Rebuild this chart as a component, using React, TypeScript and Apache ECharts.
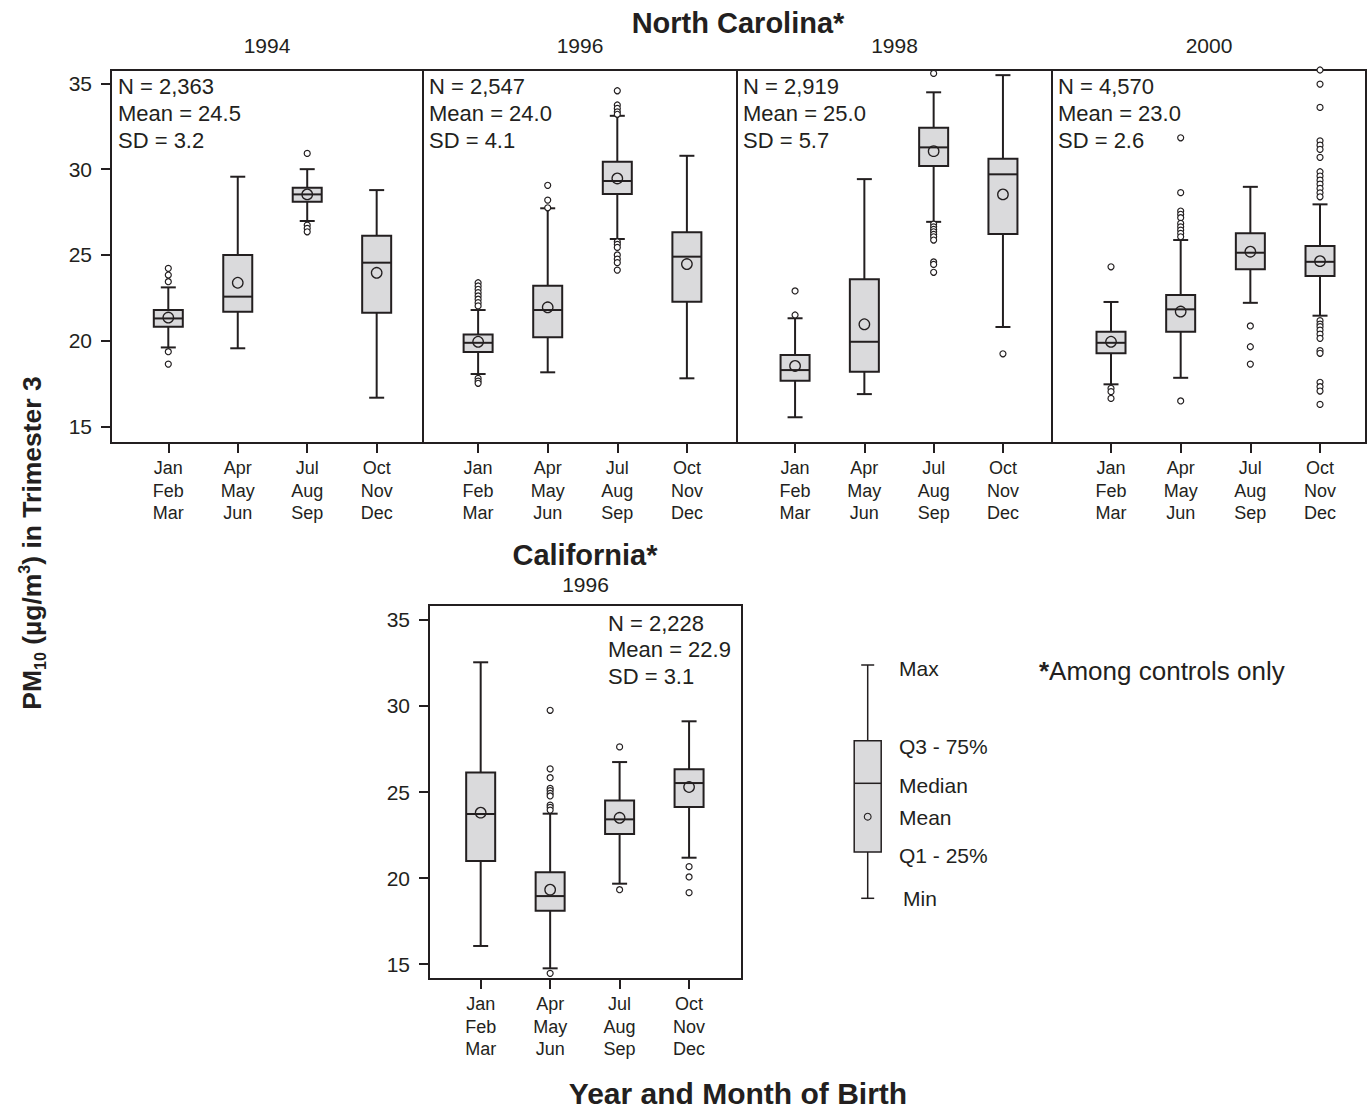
import React, { useEffect, useRef } from 'react';
import * as echarts from 'echarts';

// ---------- data ----------
const seasons = ['Jan\nFeb\nMar', 'Apr\nMay\nJun', 'Jul\nAug\nSep', 'Oct\nNov\nDec'];
const yTicks = [15, 20, 25, 30, 35];
const xTicks = [1, 2, 3, 4];

// box stats per season: [min, Q1, median, Q3, max]
const nc1994Box = [
  [19.61, 20.82, 21.3, 21.79, 23.11],
  [19.56, 21.69, 22.57, 25.0, 29.56],
  [26.98, 28.1, 28.53, 28.92, 30.0],
  [16.68, 21.63, 24.55, 26.12, 28.78],
];
const nc1994Mean = [21.35, 23.38, 28.53, 23.96];
const nc1994Outliers = [
  [24.22, 23.83, 23.44, 19.36, 18.64],
  [],
  [30.92, 26.74, 26.55, 26.35],
  [],
];
const nc1994Stats = ['N = 2,363', 'Mean = 24.5', 'SD = 3.2'];

const nc1996Box = [
  [18.06, 19.34, 19.88, 20.37, 21.79],
  [18.16, 20.2, 21.79, 23.21, 27.72],
  [25.93, 28.55, 29.31, 30.43, 33.11],
  [17.81, 22.27, 24.9, 26.32, 30.78],
];
const nc1996Mean = [19.94, 21.95, 29.46, 24.47];
const nc1996Outliers = [
  [23.38, 23.19, 23.0, 22.8, 22.61, 22.42, 22.22, 22.03, 17.81, 17.65, 17.52],
  [29.06, 28.2, 27.75],
  [34.57, 33.74, 33.54, 33.34, 33.2, 25.77, 25.62, 25.44, 25.0, 24.76, 24.55, 24.12],
  [],
];
const nc1996Stats = ['N = 2,547', 'Mean = 24.0', 'SD = 4.1'];

const nc1998Box = [
  [15.54, 17.67, 18.29, 19.17, 21.31],
  [16.89, 18.19, 19.94, 23.58, 29.42],
  [26.93, 30.18, 31.27, 32.41, 34.48],
  [20.8, 26.22, 29.7, 30.61, 35.48],
];
const nc1998Mean = [18.53, 20.96, 31.05, 28.53];
const nc1998Outliers = [
  [22.9, 21.5],
  [],
  [35.58, 26.8, 26.64, 26.49, 26.35, 26.2, 26.06, 25.87, 24.59, 24.45, 23.99],
  [19.24],
];
const nc1998Stats = ['N = 2,919', 'Mean = 25.0', 'SD = 5.7'];

const nc2000Box = [
  [17.46, 19.27, 19.88, 20.52, 22.26],
  [17.84, 20.52, 21.83, 22.66, 25.87],
  [22.21, 24.16, 25.13, 26.26, 28.97],
  [21.46, 23.77, 24.6, 25.52, 27.95],
];
const nc2000Mean = [19.94, 21.7, 25.19, 24.64];
const nc2000Outliers = [
  [24.31, 17.23, 17.03, 16.64],
  [31.83, 28.63, 27.56, 27.37, 27.17, 26.84, 26.64, 26.45, 26.26, 26.06, 16.49],
  [20.86, 19.65, 18.64],
  [35.78, 34.96, 33.6, 31.65, 31.4, 31.15, 30.69, 29.85, 29.6, 29.36, 29.13, 28.88, 28.62, 28.39,
    21.17, 20.97, 20.82, 20.62, 20.39, 20.14, 19.42, 19.27, 17.58, 17.32, 17.07, 16.29],
];
const nc2000Stats = ['N = 4,570', 'Mean = 23.0', 'SD = 2.6'];

const ca1996Box = [
  [16.05, 20.99, 23.72, 26.14, 32.54],
  [14.75, 18.1, 18.95, 20.33, 23.74],
  [19.67, 22.56, 23.41, 24.5, 26.74],
  [21.18, 24.13, 25.52, 26.32, 29.11],
];
const ca1996Mean = [23.8, 19.32, 23.5, 25.29];
const ca1996Outliers = [
  [],
  [29.75, 26.34, 25.83, 25.21, 25.08, 24.92, 24.77, 24.24, 24.11, 23.95, 14.46],
  [27.62, 19.32],
  [20.66, 20.06, 19.15],
];
const ca1996Stats = ['N = 2,228', 'Mean = 22.9', 'SD = 3.1'];

const legendLabels = ['Max', 'Q3 - 75%', 'Median', 'Mean', 'Q1 - 25%', 'Min'];

// ---------- layout / style ----------
const INK = '#231f20';
const BOX_FILL = '#dadadc';
const FONT = '"Liberation Sans", Arial, Helvetica, sans-serif';

const panels = [
  { box: nc1994Box, mean: nc1994Mean, out: nc1994Outliers, stats: nc1994Stats, year: '1994',
    grid: { left: 111, top: 70, width: 312, height: 373 }, xr: [0.175, 4.667], yr: [14.04, 35.78], showY: true,
    statsPos: [118, 72.5], statsLH: 27, yearY: 45 },
  { box: nc1996Box, mean: nc1996Mean, out: nc1996Outliers, stats: nc1996Stats, year: '1996',
    grid: { left: 423, top: 70, width: 314, height: 373 }, xr: [0.208, 4.72], yr: [14.04, 35.78], showY: false,
    statsPos: [429, 72.5], statsLH: 27, yearY: 45 },
  { box: nc1998Box, mean: nc1998Mean, out: nc1998Outliers, stats: nc1998Stats, year: '1998',
    grid: { left: 737, top: 70, width: 315, height: 373 }, xr: [0.162, 4.708], yr: [14.04, 35.78], showY: false,
    statsPos: [743, 72.5], statsLH: 27, yearY: 45 },
  { box: nc2000Box, mean: nc2000Mean, out: nc2000Outliers, stats: nc2000Stats, year: '2000',
    grid: { left: 1052, top: 70, width: 314, height: 373 }, xr: [0.153, 4.66], yr: [14.04, 35.78], showY: false,
    statsPos: [1058, 72.5], statsLH: 27, yearY: 45 },
  { box: ca1996Box, mean: ca1996Mean, out: ca1996Outliers, stats: ca1996Stats, year: '1996',
    grid: { left: 429, top: 605, width: 313, height: 374 }, xr: [0.256, 4.762], yr: [14.13, 35.87], showY: true,
    statsPos: [608, 610], statsLH: 26.5, yearY: 584 },
];

function renderBox(_params: any, api: any) {
  const x = api.value(0);
  const pts = [1, 2, 3, 4, 5].map((d) => api.coord([x, api.value(d)]));
  const cx = pts[0][0];
  const [yMin, yQ1, yMed, yQ3, yMax] = pts.map((p: number[]) => p[1]);
  const hw = 14.5;
  const cw = 7.5;
  const ls = { stroke: INK, lineWidth: 2 };
  return {
    type: 'group',
    children: [
      { type: 'line', shape: { x1: cx, y1: yMax, x2: cx, y2: yQ3 }, style: ls },
      { type: 'line', shape: { x1: cx, y1: yQ1, x2: cx, y2: yMin }, style: ls },
      { type: 'line', shape: { x1: cx - cw, y1: yMax, x2: cx + cw, y2: yMax }, style: ls },
      { type: 'line', shape: { x1: cx - cw, y1: yMin, x2: cx + cw, y2: yMin }, style: ls },
      { type: 'rect', shape: { x: cx - hw, y: yQ3, width: 2 * hw, height: yQ1 - yQ3 },
        style: { fill: BOX_FILL, stroke: INK, lineWidth: 2 } },
      { type: 'line', shape: { x1: cx - hw, y1: yMed, x2: cx + hw, y2: yMed }, style: ls },
    ],
  };
}

function buildOption() {
  const grid: any[] = [];
  const xAxis: any[] = [];
  const yAxis: any[] = [];
  const series: any[] = [];
  const graphic: any[] = [];

  panels.forEach((p, i) => {
    grid.push({ ...p.grid, show: true, borderColor: INK, borderWidth: 2, backgroundColor: 'transparent' });
    xAxis.push({
      type: 'value', gridIndex: i, min: p.xr[0], max: p.xr[1],
      axisLine: { show: true, onZero: false, lineStyle: { color: INK, width: 2 } },
      splitLine: { show: false },
      axisTick: { show: true, customValues: xTicks, length: 10, lineStyle: { color: INK, width: 2 } },
      axisLabel: {
        customValues: xTicks, formatter: (v: number) => seasons[Math.round(v) - 1] || '',
        fontSize: 18, lineHeight: 22.5, color: INK, margin: 14, fontFamily: FONT,
      },
    });
    yAxis.push({
      type: 'value', gridIndex: i, min: p.yr[0], max: p.yr[1], show: p.showY,
      axisLine: { show: true, onZero: false, lineStyle: { color: INK, width: 2 } },
      splitLine: { show: false },
      axisTick: { show: true, customValues: yTicks, length: 10, lineStyle: { color: INK, width: 2 } },
      axisLabel: { customValues: yTicks, fontSize: 21, color: INK, margin: 19, fontFamily: FONT },
    });
    series.push({
      type: 'custom', xAxisIndex: i, yAxisIndex: i, silent: true, clip: false, z: 2,
      data: p.box.map((b, k) => [k + 1, ...b]),
      encode: { x: 0, y: [1, 2, 3, 4, 5] },
      renderItem: renderBox,
    });
    series.push({
      type: 'scatter', xAxisIndex: i, yAxisIndex: i, silent: true, clip: false, z: 4,
      symbol: 'circle', symbolSize: 10.5,
      itemStyle: { color: 'rgba(0,0,0,0)', borderColor: INK, borderWidth: 1.3, opacity: 1 },
      data: p.mean.map((m, k) => [k + 1, m]),
    });
    series.push({
      type: 'scatter', xAxisIndex: i, yAxisIndex: i, silent: true, clip: false, z: 3,
      symbol: 'circle', symbolSize: 6,
      itemStyle: { color: '#ffffff', borderColor: INK, borderWidth: 1.2, opacity: 1 },
      data: p.out.flatMap((arr, k) => arr.map((v) => [k + 1, v])),
    });
    graphic.push({
      type: 'text', x: p.statsPos[0], y: p.statsPos[1], z: 10,
      style: { text: p.stats.join('\n'), fill: INK, fontSize: 22, fontFamily: FONT, lineHeight: p.statsLH,
        align: 'left', verticalAlign: 'top' },
    });
    graphic.push({
      type: 'text', x: p.grid.left + p.grid.width / 2, y: p.yearY, z: 10,
      style: { text: p.year, fill: INK, fontSize: 21, fontFamily: FONT, align: 'center', verticalAlign: 'middle' },
    });
  });

  // titles
  graphic.push({
    type: 'text', x: 738, y: 23, z: 10,
    style: { text: 'North Carolina*', fill: INK, fontSize: 29, fontWeight: 'bold', fontFamily: FONT,
      align: 'center', verticalAlign: 'middle' },
  });
  graphic.push({
    type: 'text', x: 585, y: 555, z: 10,
    style: { text: 'California*', fill: INK, fontSize: 29, fontWeight: 'bold', fontFamily: FONT,
      align: 'center', verticalAlign: 'middle' },
  });
  graphic.push({
    type: 'text', x: 738, y: 1093, z: 10,
    style: { text: 'Year and Month of Birth', fill: INK, fontSize: 30, fontWeight: 'bold', fontFamily: FONT,
      align: 'center', verticalAlign: 'middle' },
  });
  graphic.push({
    type: 'text', x: 32, y: 543, rotation: Math.PI / 2, z: 10,
    style: {
      text: '{b|PM}{s|10}{b| (µg/m}{p|3}{b|) in Trimester 3}',
      align: 'center', verticalAlign: 'middle', fill: INK,
      rich: {
        b: { fontSize: 26.5, fontWeight: 'bold', fontFamily: FONT, lineHeight: 32, fill: INK },
        s: { fontSize: 16, fontWeight: 'bold', fontFamily: FONT, lineHeight: 16, verticalAlign: 'bottom', fill: INK },
        p: { fontSize: 16, fontWeight: 'bold', fontFamily: FONT, lineHeight: 16, verticalAlign: 'top', fill: INK },
      },
    },
  });
  graphic.push({
    type: 'text', x: 1039, y: 671, z: 10,
    style: {
      text: '{a|*}{t|Among controls only}', align: 'left', verticalAlign: 'middle',
      rich: {
        a: { fontSize: 26, fontWeight: 'bold', fontFamily: FONT, fill: INK },
        t: { fontSize: 26, fontFamily: FONT, fill: INK },
      },
    },
  });

  // legend diagram
  const lx = 867.7;
  const lw = { stroke: INK, lineWidth: 1.5 };
  const legY = { max: 665, q3: 740.7, med: 783.3, mean: 816.7, q1: 852, min: 898.3 };
  graphic.push({ type: 'line', shape: { x1: lx, y1: legY.max, x2: lx, y2: legY.min }, style: lw, z: 10 });
  graphic.push({ type: 'line', shape: { x1: lx - 6.5, y1: legY.max, x2: lx + 6.5, y2: legY.max }, style: lw, z: 10 });
  graphic.push({ type: 'line', shape: { x1: lx - 6.5, y1: legY.min, x2: lx + 6.5, y2: legY.min }, style: lw, z: 10 });
  graphic.push({ type: 'rect', shape: { x: lx - 13.5, y: legY.q3, width: 27, height: legY.q1 - legY.q3 },
    style: { fill: BOX_FILL, stroke: INK, lineWidth: 1.5 }, z: 11 });
  graphic.push({ type: 'line', shape: { x1: lx - 13.5, y1: legY.med, x2: lx + 13.5, y2: legY.med }, style: lw, z: 12 });
  graphic.push({ type: 'circle', shape: { cx: lx, cy: legY.mean, r: 3.4 },
    style: { fill: 'rgba(0,0,0,0)', stroke: INK, lineWidth: 1.1 }, z: 12 });
  const legTextPos = [[899, 668], [899, 746], [899, 785], [899, 817], [899, 855], [903, 898]];
  legendLabels.forEach((t, k) => {
    graphic.push({
      type: 'text', x: legTextPos[k][0], y: legTextPos[k][1], z: 10,
      style: { text: t, fill: INK, fontSize: 21, fontFamily: FONT, align: 'left', verticalAlign: 'middle' },
    });
  });

  return {
    animation: false,
    backgroundColor: '#ffffff',
    textStyle: { fontFamily: FONT },
    grid, xAxis, yAxis, series, graphic,
  };
}

export default function App() {
  const ref = useRef<HTMLDivElement>(null);
  useEffect(() => {
    const chart = echarts.init(ref.current as HTMLDivElement, null, { renderer: 'svg' });
    chart.setOption(buildOption() as any);
    return () => chart.dispose();
  }, []);
  return (
    <div
      ref={ref}
      style={{ position: 'absolute', left: 0, top: 0, width: 1372, height: 1110, background: '#ffffff' }}
    />
  );
}
